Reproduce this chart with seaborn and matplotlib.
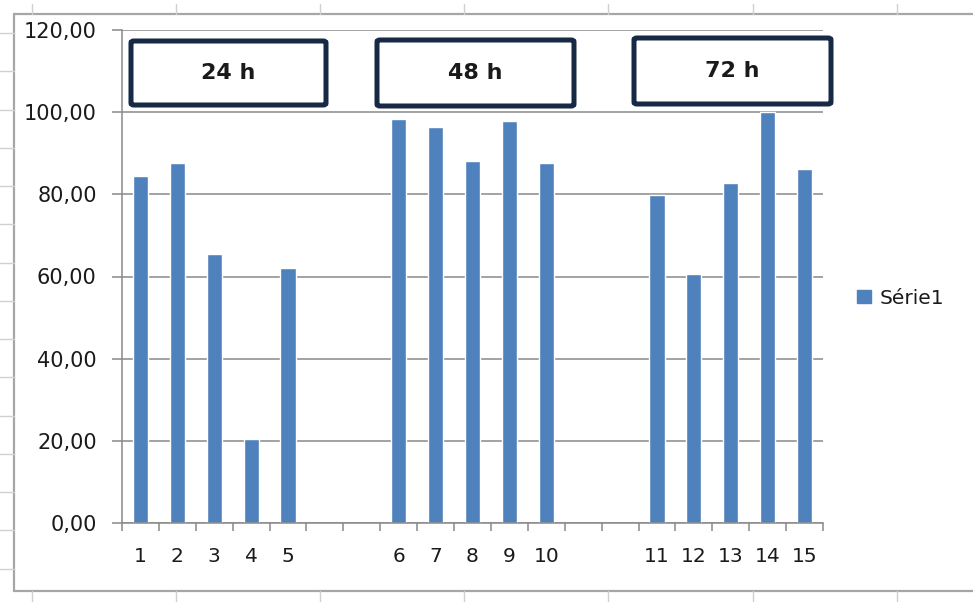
import matplotlib
matplotlib.use("Agg")
import matplotlib.pyplot as plt
from matplotlib.patches import FancyBboxPatch, Patch
from matplotlib.lines import Line2D
import seaborn as sns
import pandas as pd

# Sample numbers and measured values (three groups of five)
samples = [str(i) for i in range(1, 16)]
values = [84.5, 87.6, 65.5, 20.5, 62.1,
          98.3, 96.4, 88.0, 97.9, 87.6,
          79.9, 60.7, 82.7, 100.0, 86.1]
series_name = "Série1"
group_labels = ["24 h", "48 h", "72 h"]
y_ticks = [0, 20, 40, 60, 80, 100, 120]

# Category slots on the x axis: two empty slots separate the groups
slot_keys = (samples[0:5] + ["gap1", "gap2"] + samples[5:10]
             + ["gap3", "gap4"] + samples[10:15])
slot_labels = [k if not k.startswith("gap") else "" for k in slot_keys]

df = pd.DataFrame({"sample": samples, "value": values})

sns.set_style("white")
plt.rcParams["font.family"] = ["DejaVu Sans"]

BAR = "#4F81BD"
GRID = "#898989"
TXT = "#1a1a1a"

fig = plt.figure(figsize=(9.73, 6.02), dpi=100)
ax = fig.add_axes([122 / 973, 79 / 602, 701 / 973, 493 / 602])

sns.barplot(data=df, x="sample", y="value", order=slot_keys, color=BAR,
            saturation=1, width=0.41, ax=ax, legend=False)

ax.set_xlim(-0.5, len(slot_keys) - 0.5)
ax.set_ylim(0, 120)
ax.set_xlabel("")
ax.set_ylabel("")

# y axis: decimal-comma labels, gridlines at every tick
ax.set_yticks(y_ticks)
ax.set_yticklabels([f"{v:.2f}".replace(".", ",") for v in y_ticks])
ax.yaxis.grid(True, color=GRID, linewidth=1.1)
ax.set_axisbelow(True)
ax.tick_params(axis="y", length=7.2, width=1.1, color=GRID, pad=11,
               labelsize=15, labelcolor=TXT, left=True)

# x axis: labels centred on slots, tick marks on slot boundaries
ax.set_xticks(range(len(slot_keys)))
ax.set_xticklabels(slot_labels)
ax.set_xticks([i - 0.5 for i in range(len(slot_keys) + 1)], minor=True)
ax.tick_params(axis="x", which="major", length=0, pad=17,
               labelsize=14.5, labelcolor=TXT)
ax.tick_params(axis="x", which="minor", length=6, width=1.1, color=GRID,
               bottom=True)

for side in ["top", "right"]:
    ax.spines[side].set_visible(False)
for side in ["left", "bottom"]:
    ax.spines[side].set_color(GRID)
    ax.spines[side].set_linewidth(1.1)

# Legend to the right of the plot
fig.legend(handles=[Patch(facecolor=BAR, edgecolor=BAR)], labels=[series_name],
           loc="center left", bbox_to_anchor=(857 / 973, 304 / 602),
           frameon=False, fontsize=14.5, handlelength=0.68, handleheight=0.68,
           handletextpad=0.45, borderpad=0, borderaxespad=0, labelcolor=TXT)

# Group header boxes
boxes = [(131, 41, 195, 64), (377, 40, 197, 66), (634, 38, 197, 66)]
for (x, y, w, h), lab in zip(boxes, group_labels):
    fx, fy = x / 973, (602 - y - h) / 602
    fw, fh = w / 973, h / 602
    fig.patches.append(FancyBboxPatch(
        (fx, fy), fw, fh, boxstyle="round,pad=0,rounding_size=0.003",
        transform=fig.transFigure, facecolor="white", edgecolor="#172a45",
        linewidth=3.6, zorder=5))
    fig.text(fx + fw / 2, fy + fh / 2, lab, ha="center", va="center",
             fontsize=16, fontweight="bold", color=TXT, zorder=6)

# Chart frame and the worksheet cell grid around it
FRAME = "#a6a6a6"
CELL = "#d0d0d0"
fr_left, fr_top, fr_bottom = 14, 14, 591
def fx_(px):
    return px / 973
def fy_(py):
    return (602 - py) / 602
fig.add_artist(Line2D([fx_(fr_left), 1.0], [fy_(fr_top)] * 2, color=FRAME, lw=1.6))
fig.add_artist(Line2D([fx_(fr_left), 1.0], [fy_(fr_bottom)] * 2, color=FRAME, lw=1.6))
fig.add_artist(Line2D([fx_(fr_left)] * 2, [fy_(fr_top), fy_(fr_bottom)], color=FRAME, lw=1.6))
for cx in [32, 176, 320, 464, 608, 753, 897]:
    fig.add_artist(Line2D([fx_(cx)] * 2, [fy_(4), fy_(fr_top)], color=CELL, lw=1))
    fig.add_artist(Line2D([fx_(cx)] * 2, [fy_(fr_bottom), 0], color=CELL, lw=1))
cy = 33.0
while cy < fr_bottom:
    fig.add_artist(Line2D([0, fx_(fr_left)], [fy_(cy)] * 2, color=CELL, lw=1))
    cy += 38.25

fig.savefig("out.png", dpi=100, facecolor="white")
